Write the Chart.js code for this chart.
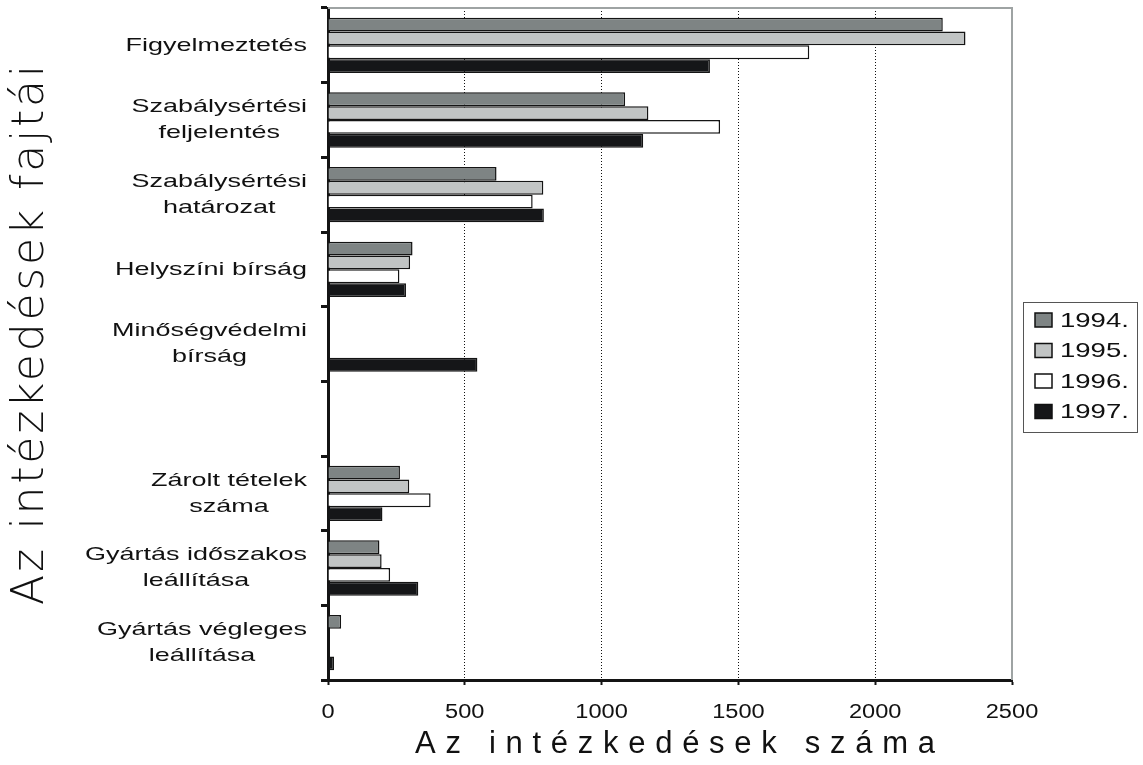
<!DOCTYPE html>
<html>
<head>
<meta charset="utf-8">
<script src="https://cdn.jsdelivr.net/npm/chart.js@4"></script>
<style>
  html, body { margin: 0; padding: 0; background: #ffffff; }
  #wrap { width: 1143px; height: 765px; }
</style>
</head>
<body>
<div id="wrap"><canvas id="c" width="1143" height="765"></canvas></div>
<script>
// Kategóriák (soronként tördelt feliratokkal); az üres sor elválasztó hely
const categories = [
  ['Figyelmeztetés'],
  ['Szabálysértési', 'feljelentés'],
  ['Szabálysértési', 'határozat'],
  ['Helyszíni bírság'],
  ['Minőségvédelmi', 'bírság'],
  [''],
  ['Zárolt tételek', 'száma'],
  ['Gyártás időszakos', 'leállítása'],
  ['Gyártás végleges', 'leállítása']
];
const seriesNames = ['1994.', '1995.', '1996.', '1997.'];
const values1994 = [2247, 1086, 616, 309, null, null, 263, 188, 48];
const values1995 = [2330, 1171, 787, 300, null, null, 297, 196, 0];
const values1996 = [1759, 1433, 748, 261, null, null, 375, 227, 0];
const values1997 = [1396, 1152, 789, 285, 546, null, 199, 330, 22];
const xTicks = [0, 500, 1000, 1500, 2000, 2500];
const xTickLabels = ['0', '500', '1000', '1500', '2000', '2500'];
const xTitle = 'Az intézkedések száma';
const yTitle = 'Az intézkedések fajtái';

const seriesValues = [values1994, values1995, values1996, values1997];
const seriesColors = ['#7e8484', '#c1c4c4', '#ffffff', '#151618'];

const LABEL_FONT = '"Liberation Sans", Arial, sans-serif';

// Szöveg kiírása egyenletes betűközzel, adott teljes szélességre
function spacedText(ctx, text, cx, y, width) {
  ctx.letterSpacing = '0px';
  const w0 = ctx.measureText(text).width;
  const gap = (width - w0) / (text.length - 1);
  ctx.textAlign = 'left';
  ctx.letterSpacing = gap + 'px';
  ctx.fillText(text, cx - width / 2, y);
  ctx.letterSpacing = '0px';
}

// Vízszintesen nyújtott szöveg
function stretchedText(ctx, text, x, y, sx) {
  ctx.save();
  ctx.translate(x, y);
  ctx.scale(sx, 1);
  ctx.fillText(text, 0, 0);
  ctx.restore();
}

const decor = {
  id: 'decor',
  beforeDatasetsDraw(chart) {
    // szürke keret felül és jobb oldalt
    const { ctx, chartArea: a } = chart;
    ctx.save();
    ctx.strokeStyle = '#9ea3a3';
    ctx.lineWidth = 2;
    ctx.beginPath();
    ctx.moveTo(a.left, a.top);
    ctx.lineTo(a.right, a.top);
    ctx.lineTo(a.right, a.bottom);
    ctx.stroke();
    ctx.restore();
  },
  afterDraw(chart) {
    const { ctx } = chart;
    const ys = chart.scales.y;
    const xs = chart.scales.x;
    ctx.save();
    ctx.fillStyle = '#111111';

    // kategóriafeliratok: jobbra zárt blokk, soronként középre igazítva
    const SX = 1.42, RIGHT = 307, LH = 26;
    ctx.font = '19px ' + LABEL_FONT;
    ctx.textBaseline = 'middle';
    ctx.textAlign = 'center';
    chart.data.labels.forEach((lines, i) => {
      const cy = ys.getPixelForValue(i);
      const w = Math.max(...lines.map(t => ctx.measureText(t).width)) * SX;
      const cx = RIGHT - w / 2;
      lines.forEach((t, k) => {
        const y = cy + (k - (lines.length - 1) / 2) * LH;
        stretchedText(ctx, t, cx, y, SX);
      });
    });

    // x tengely osztásfeliratai
    ctx.font = '20px ' + LABEL_FONT;
    xTicks.forEach((v, i) => {
      stretchedText(ctx, xTickLabels[i], xs.getPixelForValue(v), 712, 1.18);
    });

    // x tengely címe
    ctx.textBaseline = 'alphabetic';
    ctx.font = '31px ' + LABEL_FONT;
    spacedText(ctx, xTitle, 675, 753, 520);

    // y tengely címe (elforgatva)
    ctx.save();
    ctx.translate(43, 335);
    ctx.rotate(-Math.PI / 2);
    ctx.font = '200 44px "DejaVu Sans", sans-serif';
    spacedText(ctx, yTitle, 0, 0, 540);
    ctx.restore();

    // jelmagyarázat kerettel
    ctx.strokeStyle = '#555555';
    ctx.lineWidth = 1;
    ctx.strokeRect(1023.5, 302.5, 114, 130);
    ctx.font = '21px ' + LABEL_FONT;
    ctx.textAlign = 'left';
    ctx.textBaseline = 'middle';
    chart.data.datasets.forEach((ds, i) => {
      const cy = 320 + i * 30.5;
      ctx.fillStyle = ds.backgroundColor;
      ctx.fillRect(1035, cy - 7, 17, 14);
      ctx.strokeStyle = '#111111';
      ctx.lineWidth = 1.5;
      ctx.strokeRect(1035, cy - 7, 17, 14);
      ctx.fillStyle = '#111111';
      stretchedText(ctx, ds.label, 1060, cy + 1, 1.31);
    });
    ctx.restore();
  }
};

new Chart(document.getElementById('c'), {
  type: 'bar',
  data: {
    labels: categories,
    datasets: seriesNames.map((name, i) => ({
      label: name,
      data: seriesValues[i],
      backgroundColor: seriesColors[i],
      borderColor: '#141414',
      borderWidth: 1.5,
      categoryPercentage: 0.74,
      barPercentage: 1.0
    }))
  },
  options: {
    indexAxis: 'y',
    responsive: false,
    animation: false,
    events: [],
    layout: { padding: { left: 8, top: 8, right: 131, bottom: 0 } },
    plugins: {
      legend: { display: false },
      tooltip: { enabled: false }
    },
    scales: {
      x: {
        type: 'linear',
        min: 0,
        max: 2500,
        afterBuildTicks: s => { s.ticks = xTicks.map(v => ({ value: v })); },
        afterFit: s => { s.height = 85; },
        border: { display: true, color: '#141414', width: 3, dash: [1, 2] },
        grid: {
          drawOnChartArea: true,
          color: c => (c.tick && (c.tick.value === 0 || c.tick.value === 2500)) ? 'rgba(0,0,0,0)' : '#111111',
          lineWidth: 1,
          drawTicks: true,
          tickLength: 5,
          tickColor: '#141414',
          tickWidth: 2,
          tickBorderDash: []
        },
        ticks: { display: false }
      },
      y: {
        type: 'category',
        afterFit: s => { s.width = 320; },
        border: { display: true, color: '#141414', width: 3 },
        grid: {
          offset: true,
          drawOnChartArea: false,
          drawTicks: true,
          tickLength: 7,
          tickWidth: 3,
          tickColor: '#141414'
        },
        ticks: { display: false }
      }
    }
  },
  plugins: [decor]
});
</script>
</body>
</html>
